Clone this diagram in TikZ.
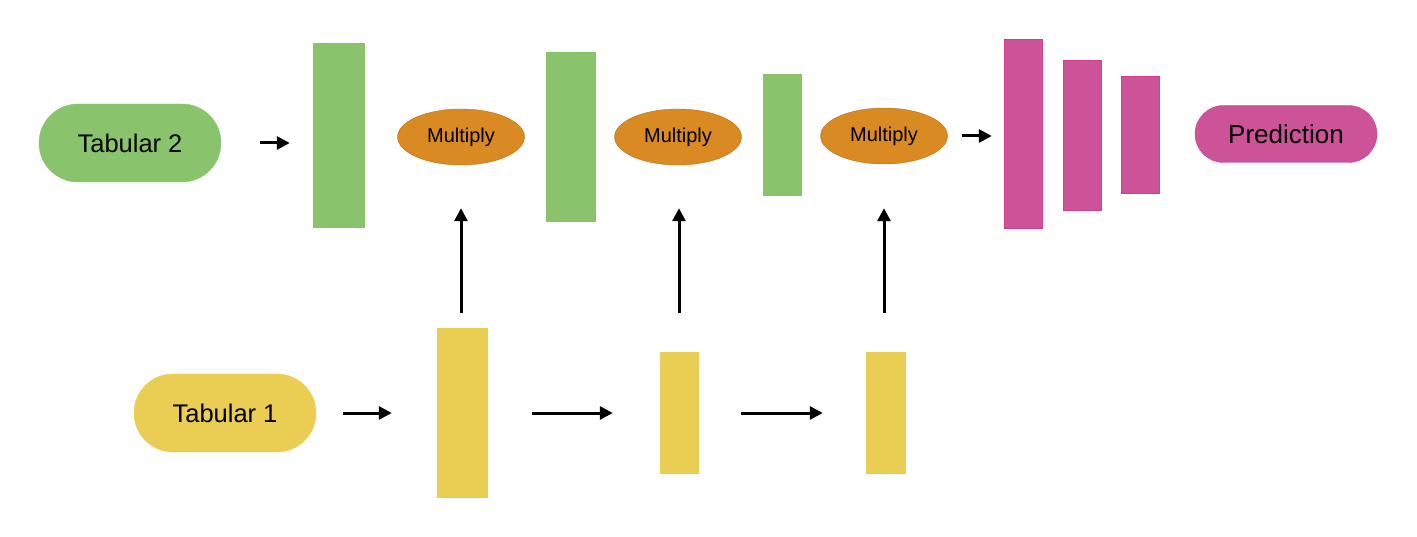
\documentclass[tikz,border=0pt]{standalone}
\usepackage{fontspec}
\setmainfont{Liberation Sans}
\usepackage{xcolor}
\usepackage{tikz}
\usetikzlibrary{shapes.geometric, shapes.misc, arrows.meta, positioning, calc}
\definecolor{tabgreen}{RGB}{137,196,109}
\definecolor{tabyellow}{RGB}{234,205,83}
\definecolor{muloranje}{RGB}{217,138,34}
\definecolor{predpink}{RGB}{205,83,152}
\definecolor{predpinkdk}{RGB}{214,60,150}
\tikzset{
  inputpill/.style={
    rounded rectangle, minimum width=182pt, minimum height=78pt,
    inner sep=0pt, font=\fontsize{25.5}{30}\selectfont
  },
  inputpillG/.style={inputpill, fill=tabgreen, draw=tabgreen},
  inputpillY/.style={inputpill, fill=tabyellow, draw=tabyellow},
  outputpill/.style={inputpill, minimum height=57pt, fill=predpink, draw=predpinkdk,
    font=\fontsize{26}{30}\selectfont},
  layerbar/.style={rectangle, inner sep=0pt},
  layerG/.style={layerbar, fill=tabgreen, draw=tabgreen},
  layerY/.style={layerbar, fill=tabyellow, draw=tabyellow},
  layerP/.style={layerbar, fill=predpink, draw=predpinkdk},
  mulnode/.style={
    ellipse, minimum width=127pt, minimum height=56pt, inner sep=0pt,
    fill=muloranje, draw=muloranje!85!black, font=\fontsize{20}{24}\selectfont
  },
  arrow/.style={-{Triangle[length=13pt, width=13pt]}, line width=3pt, black}
}

\begin{document}
\begin{tikzpicture}[x=1pt, y=-1pt]
  \useasboundingbox (0,0) rectangle (1417,537);

  % Draw inputs and output
  \node[inputpillG] (tab2) at (130,143) {Tabular 2};
  \node[inputpillY] (tab1) at (225,413) {Tabular 1};
  \node[outputpill] (pred) at (1286,134) {Prediction};

  % Draw green layers
  \node[layerG, minimum width=51pt, minimum height=184pt] (g1) at (338.5,135) {};
  \node[layerG, minimum width=49pt, minimum height=169pt] (g2) at (570.5,136.5) {};
  \node[layerG, minimum width=38pt, minimum height=121pt] (g3) at (782,134.5) {};

  % Draw multiply nodes
  \node[mulnode] (m1) at (461,137) {Multiply};
  \node[mulnode] (m2) at (678,137) {Multiply};
  \node[mulnode] (m3) at (884,136) {Multiply};

  % Draw yellow layers
  \node[layerY, minimum width=50pt, minimum height=169pt] (y1) at (462,412.5) {};
  \node[layerY, minimum width=38pt, minimum height=121pt] (y2) at (679,412.5) {};
  \node[layerY, minimum width=39pt, minimum height=121pt] (y3) at (885.5,412.5) {};

  % Draw pink layers
  \node[layerP, minimum width=38pt, minimum height=189pt] (p1) at (1023,133.5) {};
  \node[layerP, minimum width=38pt, minimum height=150pt] (p2) at (1082,135) {};
  \node[layerP, minimum width=38pt, minimum height=117pt] (p3) at (1140,134.5) {};

  % Draw top row arrows
  \draw[arrow, shorten <=39pt, shorten >=23pt] (tab2.east) -- (tab2.east -| g1.west);
  \draw[arrow, shorten <=14pt, shorten >=12pt] (m3.east) -- (m3.east -| p1.west);

  % Draw bottom row arrows
  \draw[arrow, shorten <=27pt, shorten >=45pt] (tab1.east) -- (tab1.east -| y1.west);
  \draw[arrow, shorten <=45pt, shorten >=47pt] (y1.east |- tab1.east) -- (tab1.east -| y2.west);
  \draw[arrow, shorten <=43pt, shorten >=43pt] (y2.east |- tab1.east) -- (tab1.east -| y3.west);

  % Draw vertical arrows
  \draw[arrow, shorten <=15pt, shorten >=43pt] (y1.north -| m1.south) -- (m1.south);
  \draw[arrow, shorten <=39pt, shorten >=43pt] (y2.north) -- (y2.north |- m2.south);
  \draw[arrow, shorten <=39pt, shorten >=44pt] (y3.north -| m3.south) -- (m3.south);
\end{tikzpicture}
\end{document}
